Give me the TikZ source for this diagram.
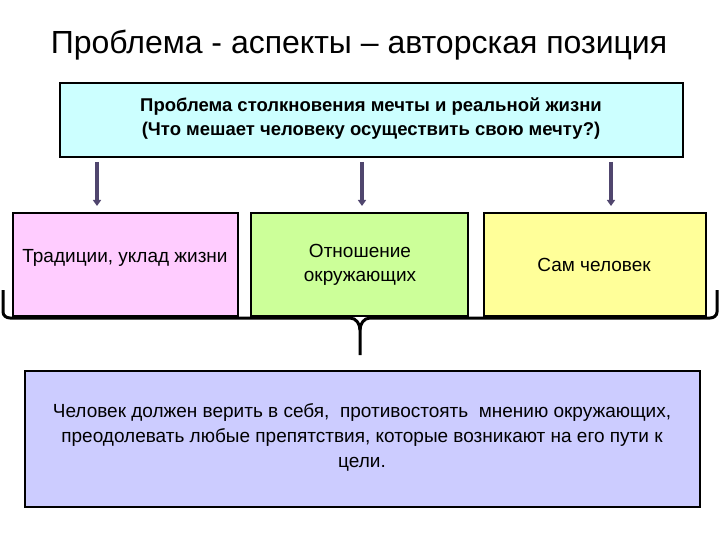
\documentclass[tikz,border=0pt]{standalone}
\usepackage{fontspec}
\setmainfont{Liberation Sans}
\usetikzlibrary{arrows.meta}
\begin{document}
\begin{tikzpicture}[x=1pt,y=-1pt,
  box/.style={draw=black,line width=2.2pt,inner sep=0pt},
  arr/.style={draw={rgb,255:red,80;green,70;blue,110},line width=3.5pt,-{Triangle[length=6pt,width=8pt]}},
  txt/.style={font=\fontsize{18.5}{24}\selectfont\bfseries,align=center}]
\useasboundingbox (0,0) rectangle (720,540);
\node[font=\fontsize{32}{36}\selectfont] (title) at (359,45) {Проблема - аспекты – авторская позиция};
\draw[box,fill={rgb,255:red,204;green,255;blue,255}] (60,83) rectangle (683,157);
\node[txt] (top) at (371,119) {Проблема столкновения мечты и реальной жизни\\(Что мешает человеку осуществить свою мечту?)};
\draw[box,fill={rgb,255:red,255;green,204;blue,255}] (13,213) rectangle (238,316);
\draw[box,fill={rgb,255:red,204;green,255;blue,153}] (251,213) rectangle (468,316);
\draw[box,fill={rgb,255:red,255;green,255;blue,153}] (484,213) rectangle (706,316);
\coordinate (a1) at (97,162); \coordinate (b1) at (97,206);
\coordinate (a2) at (362,162); \coordinate (b2) at (362,206);
\coordinate (a3) at (611,162); \coordinate (b3) at (611,206);
\draw[arr] (a1) -- (b1); \draw[arr] (a2) -- (b2); \draw[arr] (a3) -- (b3);
\node[txt,font=\fontsize{19}{24}\selectfont] (t1) at (125,258) {Традиции, уклад жизни};
\node[txt,font=\fontsize{19}{24}\selectfont] (t2) at (360,265) {Отношение\\окружающих};
\node[txt,font=\fontsize{19}{24}\selectfont] (t3) at (594,265) {Сам человек};
\draw[line width=3pt] (3,290) -- (3,312) to[out=-90,in=180] (10,318) -- (350,318)
  to[out=0,in=90] (360,330) -- (360,355);
\draw[line width=3pt] (717,290) -- (717,312) to[out=-90,in=0] (710,318) -- (370,318)
  to[out=180,in=90] (360,330);
\draw[box,fill={rgb,255:red,204;green,204;blue,255}] (25,371) rectangle (700,507);
\node[font=\fontsize{19}{25}\selectfont,align=center] (bot) at (362,437) {Человек должен верить в себя,\ \ противостоять\ \ мнению окружающих,\\преодолевать любые препятствия, которые возникают на его пути к\\цели.};
\end{tikzpicture}
\end{document}
